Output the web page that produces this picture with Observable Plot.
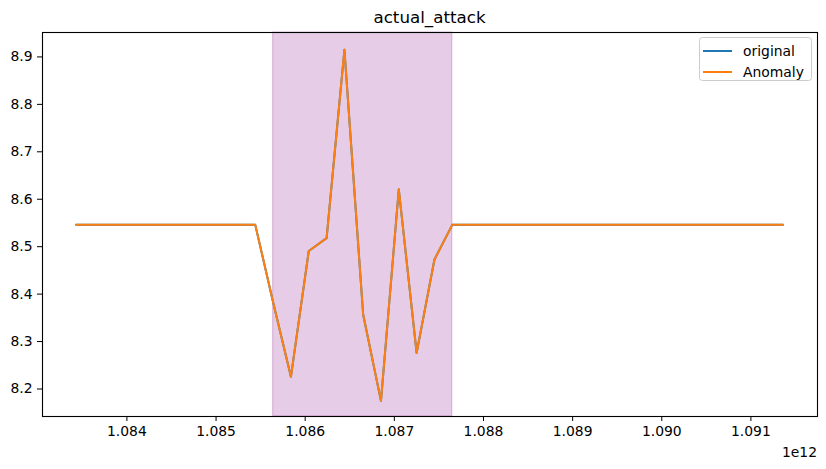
<!DOCTYPE html>
<html>
<head>
<meta charset="utf-8">
<script src="https://cdn.jsdelivr.net/npm/d3@7"></script>
<script src="https://cdn.jsdelivr.net/npm/@observablehq/plot@0.6"></script>
<style>
  html, body { margin: 0; padding: 0; background: #fff; }
  #chart { width: 826px; height: 469px; }
</style>
</head>
<body>
<div id="chart"></div>
<script>
// timestamps (ms)
const times = [1.08343e12, 1.08544e12, 1.08564e12, 1.08584e12, 1.08604e12, 1.08624e12, 1.08644e12,
               1.08665e12, 1.08685e12, 1.08705e12, 1.08725e12, 1.08745e12, 1.08765e12, 1.09136e12];
const originalValues = [8.546, 8.546, 8.383, 8.226, 8.491, 8.518, 8.915, 8.357, 8.175, 8.621, 8.276, 8.473, 8.546, 8.546];
const anomalyValues  = [8.546, 8.546, 8.383, 8.226, 8.491, 8.518, 8.915, 8.357, 8.175, 8.621, 8.276, 8.473, 8.546, 8.546];
const anomalySpan = [1.08564e12, 1.08765e12];
const xTicks = [1.084e12, 1.085e12, 1.086e12, 1.087e12, 1.088e12, 1.089e12, 1.090e12, 1.091e12];
const yTicks = [8.2, 8.3, 8.4, 8.5, 8.6, 8.7, 8.8, 8.9];
const seriesNames = ["original", "Anomaly"];
const seriesColors = ["#1f77b4", "#ff7f0e"];
const title = "actual_attack";
const offsetLabel = "1e12";

const original = times.map((t, i) => ({t, v: originalValues[i]}));
const anomaly = times.map((t, i) => ({t, v: anomalyValues[i]}));

const W = 826, H = 469;
const mL = 42, mR = 9, mT = 32, mB = 53;

const plot = Plot.plot({
  width: W, height: H,
  marginLeft: mL, marginRight: mR, marginTop: mT, marginBottom: mB,
  style: {fontFamily: "DejaVu Sans", fontSize: "13.9px", color: "#000", background: "#fff"},
  x: {domain: [1.083053e12, 1.091747e12]},
  y: {domain: [8.142, 8.9515]},
  marks: [
    Plot.rect([{x1: anomalySpan[0], x2: anomalySpan[1]}], {x1: "x1", x2: "x2", fill: "purple", fillOpacity: 0.2, stroke: "purple", strokeOpacity: 0.2, strokeWidth: 1.3}),
    Plot.line(original, {x: "t", y: "v", stroke: seriesColors[0], strokeWidth: 2}),
    Plot.line(anomaly, {x: "t", y: "v", stroke: seriesColors[1], strokeWidth: 2}),
    Plot.frame({stroke: "#000", strokeWidth: 1.1}),
    Plot.axisX({ticks: xTicks, tickFormat: d => (d / 1e12).toFixed(3), tickSize: 5, tickPadding: 5, label: null, fontSize: 13.9}),
    Plot.axisY({ticks: yTicks, tickFormat: d => d.toFixed(1), tickSize: 5, tickPadding: 5, label: null, fontSize: 13.9})
  ]
});
document.getElementById("chart").appendChild(plot);

const svg = d3.select(plot);
// title
svg.append("text")
  .attr("x", (mL + W - mR) / 2).attr("y", 23)
  .attr("text-anchor", "middle")
  .style("font-family", "DejaVu Sans").style("font-size", "16.7px").attr("fill", "#000")
  .text(title);
// offset label
svg.append("text")
  .attr("x", W - mR).attr("y", 457)
  .attr("text-anchor", "end")
  .style("font-family", "DejaVu Sans").style("font-size", "13.9px").attr("fill", "#000")
  .text(offsetLabel);
// legend
const lg = svg.append("g");
lg.append("rect").attr("x", 699.5).attr("y", 37.5).attr("width", 112).attr("height", 43).attr("rx", 3)
  .attr("fill", "#fff").attr("fill-opacity", 0.8).attr("stroke", "#ccc");
seriesNames.forEach((name, i) => {
  const y = 51 + i * 21;
  lg.append("line").attr("x1", 703).attr("x2", 732).attr("y1", y).attr("y2", y)
    .attr("stroke", seriesColors[i]).attr("stroke-width", 2);
  lg.append("text").attr("x", 743).attr("y", y + 5)
    .attr("text-anchor", "start")
    .style("font-family", "DejaVu Sans").style("font-size", "13.9px").attr("fill", "#000")
    .text(name);
});
</script>
</body>
</html>
